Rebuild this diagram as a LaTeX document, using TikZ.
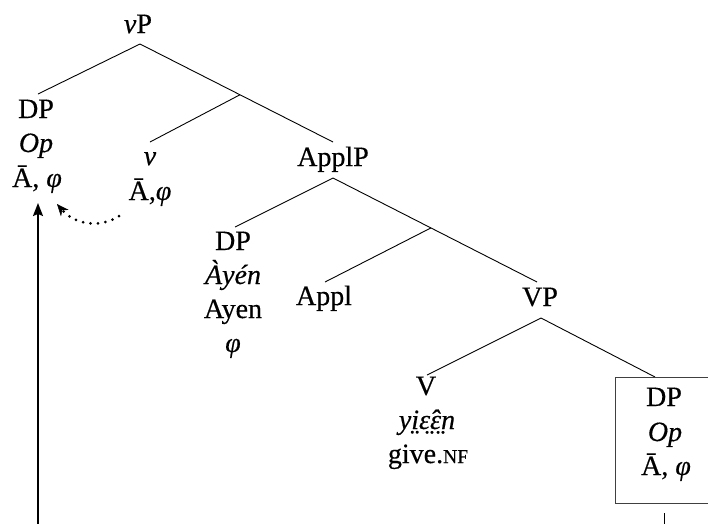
\documentclass[tikz,border=0pt]{standalone}
\usepackage{fontspec}
\setmainfont{Liberation Serif}[FakeBold=0.4]
\usetikzlibrary{arrows.meta,calc}
\newcommand\fsc[1]{{\fontsize{19.5}{19.5}\selectfont #1}}
\begin{document}
\begin{tikzpicture}[x=1pt,y=-1pt,
  lbl/.style={anchor=base,inner sep=0pt,font=\fontsize{28}{30}\selectfont},
  branch/.style={line width=0.9pt},
  boxline/.style={draw=black!75,line width=0.7pt},
  movedot/.style={line width=3pt,line cap=round,dash pattern=on 0pt off 7.5pt,
    -{Stealth[length=12pt,width=10pt,line cap=butt,line width=0.4pt]}},
  movearrow/.style={line width=1.6pt,-{Stealth[length=13pt,width=10pt,inset=2pt]}}
]
\useasboundingbox (0,0) rectangle (708,523);
\clip (0,0) rectangle (708,523);

% labels
\node[lbl] (vP) at (138,33) {\textit{v}P};
\node[lbl] (dp1) at (36,118) {DP};
\node[lbl] (op1) at (36,152) {\textit{Op}};
\node[lbl] (f1) at (37,187) {Ā, \textit{φ}};
\node[lbl] (v) at (150,165) {\textit{v}};
\node[lbl] (f2) at (150,200) {Ā,\textit{φ}};
\node[lbl] (applP) at (333,166) {ApplP};
\node[lbl] (dp2) at (233,250) {DP};
\node[lbl] (ayen1) at (233,284) {\textit{Àyén}};
\node[lbl] (ayen2) at (233,318) {Ayen};
\node[lbl] (f3) at (233,352) {\textit{φ}};
\node[lbl] (appl) at (324,305) {Appl};
\node[lbl] (VP) at (540,306) {VP};
\node[lbl] (V) at (426,395) {V};
\node[lbl] (yi) at (427,429) {\textit{yi̤ɛ̤̂ɛ̤n}};
\node[lbl] (give) at (428,463) {give.\fsc{NF}};
\node[lbl] (dp3) at (664,406) {DP};
\node[lbl] (op3) at (665,441) {\textit{Op}};
\node[lbl] (f4) at (666,475) {Ā, \textit{φ}};

% branch points
\coordinate (vPb) at (140,44);
\coordinate (dp1t) at (38,94);
\coordinate (applPt) at (333,142);
\coordinate (j1) at ($(vPb)!0.518!(applPt)$);
\coordinate (vt) at (150,142);
\coordinate (applPb) at (333,178);
\coordinate (dp2t) at (235,227);
\coordinate (VPt) at (537,282);
\coordinate (j2) at ($(applPb)!0.48!(VPt)$);
\coordinate (applt) at (325,282);
\coordinate (VPb) at (541,318);
\coordinate (Vt) at (427,375);
\coordinate (boxt) at (655,377);

\draw[branch] (vPb) -- (dp1t);
\draw[branch] (vPb) -- (applPt);
\draw[branch] (j1) -- (vt);
\draw[branch] (applPb) -- (dp2t);
\draw[branch] (applPb) -- (VPt);
\draw[branch] (j2) -- (applt);
\draw[branch] (VPb) -- (Vt);
\draw[branch] (VPb) -- (boxt);

% box around moved DP
\draw[boxline] (615,377) rectangle (740,503);
\coordinate (tickt) at (664,513);
\coordinate (tickb) at (664,530);
\draw[line width=0.8pt] (tickt) -- (tickb);

% arrows
\coordinate (ds) at (119,216);
\coordinate (de) at (57,204);
\draw[movedot] (ds) .. controls (100,229) and (74,224) .. (de);
\coordinate (vb) at (38,530);
\coordinate (va) at (38,203);
\draw[movearrow] (vb) -- (va);
\end{tikzpicture}
\end{document}
